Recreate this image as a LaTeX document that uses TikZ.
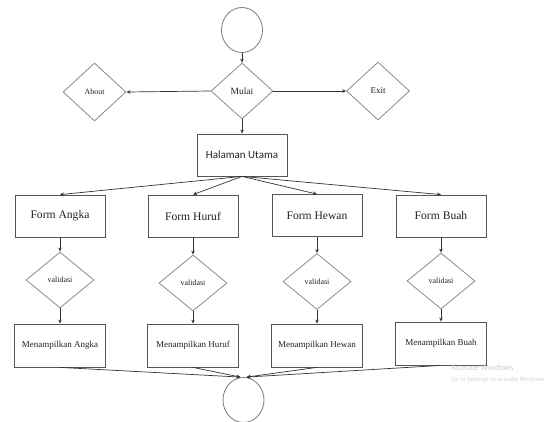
\documentclass[tikz,border=0pt]{standalone}
\usepackage{fontspec}
\setmainfont{Liberation Serif}
\newfontfamily\calib{Carlito}
\newfontfamily\wmfont{Open Sans}
\usetikzlibrary{shapes.geometric,arrows.meta,calc}
\definecolor{boxc}{HTML}{555555}
\definecolor{diac}{HTML}{8A8A8A}
\definecolor{circc}{HTML}{7A7A7A}
\definecolor{linec}{HTML}{333333}
\definecolor{txtc}{HTML}{222222}
\newcommand\myfs[1]{\fontsize{#1}{#1}\selectfont}
\tikzset{
  box/.style={draw=boxc, line width=0.8pt, minimum width=90pt, minimum height=42pt, inner sep=0pt, text=txtc},
  dia/.style={draw=diac, diamond, line width=0.8pt, inner sep=0pt, text=txtc},
  vdia/.style={dia, minimum width=68pt, minimum height=56pt, font=\myfs{8}},
  term/.style={draw=circc, ellipse, line width=0.8pt, minimum width=41pt, minimum height=45pt, inner sep=0pt},
  arr/.style={draw=linec, line width=0.7pt, -{Stealth[length=4pt,width=3.5pt]}},
  formtxt/.style={font=\myfs{11.6}},
  showtxt/.style={font=\myfs{9}},
}
\begin{document}
\begin{tikzpicture}[x=1pt,y=-1pt]
\useasboundingbox (0,0) rectangle (547,421);
% top
\node[term] (start) at (242,30) {};
\node[dia, minimum width=62pt, minimum height=56pt, font=\myfs{9.5}] (mulai) at (242,91) {Mulai};
\node[dia, minimum width=63pt, minimum height=58pt, font=\myfs{8}] (about) at (94.5,92) {About};
\node[dia, minimum width=63pt, minimum height=58pt, font=\myfs{9}] (exit) at (378,91) {Exit};
\node[box, font=\calib\myfs{11}] (utama) at (242,155) {Halaman Utama};
% forms
\node[box, formtxt] (fA) at (60,216) {Form Angka};
\node[box, formtxt] (fH) at (193,216) {Form Huruf};
\node[box, formtxt] (fW) at (317,215.5) {Form Hewan};
\node[box, formtxt] (fB) at (441,216) {Form Buah};
% validasi
\node[vdia] (vA) at (60,280) {validasi};
\node[vdia] (vH) at (193,283) {validasi};
\node[vdia] (vW) at (317,281.5) {validasi};
\node[vdia] (vB) at (441,281) {validasi};
% menampilkan
\node[box, showtxt, minimum width=91pt, minimum height=43pt] (mA) at (60,345.5) {Menampilkan Angka};
\node[box, showtxt, minimum width=91pt, minimum height=43pt] (mH) at (193,345.5) {Menampilkan Huruf};
\node[box, showtxt, minimum width=91pt, minimum height=43pt] (mW) at (317,345.5) {Menampilkan Hewan};
\node[box, showtxt, minimum width=91pt, minimum height=43pt] (mB) at (441,343.5) {Menampilkan Buah};
% end
\node[term] (end) at (243.5,400) {};
\coordinate (inL) at ($(end.north)+(-3,0)$);
\coordinate (inR) at ($(end.north)+(3,0)$);
% connectors
\draw[arr] (start) -- (mulai);
\draw[arr] (mulai.west) -- (about.east);
\draw[arr] (mulai.east) -- (exit.west);
\draw[arr] (mulai.south) -- (utama.north);
\foreach \f in {fA,fH,fW,fB} \draw[arr] (utama.south) -- (\f.north);
\foreach \c in {A,H,W,B} {
  \draw[arr] (f\c.south) -- (v\c.north);
  \draw[arr] (v\c.south) -- (m\c.north);
}
\draw[arr] (mA.south) -- (inL);
\draw[arr] (mH.south) -- (inL);
\draw[arr] (mW.south) -- (inR);
\draw[arr] (mB.south) -- (inR);
% watermark
\node[anchor=west, inner sep=0pt, text=black!22, font=\wmfont\myfs{7.6}] (wm1) at (451,368) {Activate Windows};
\node[anchor=west, inner sep=0pt, text=black!20, font=\wmfont\myfs{5.8}] (wm2) at (451,380) {Go to Settings to activate Windows};
\end{tikzpicture}
\end{document}
